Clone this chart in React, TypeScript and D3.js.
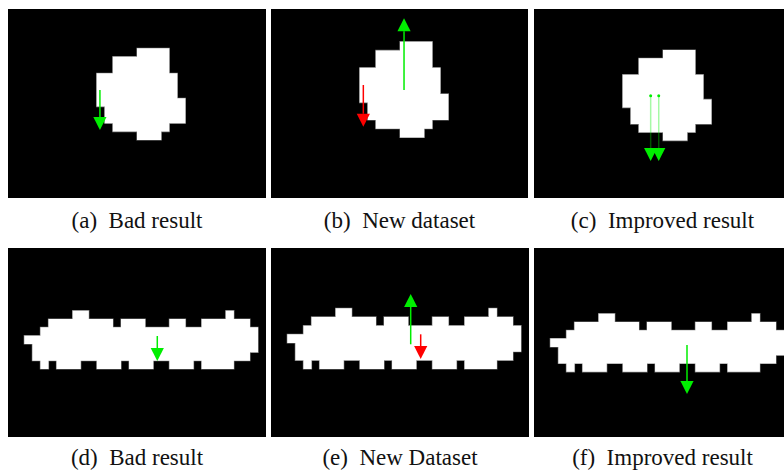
import React from "react";
import * as d3 from "d3";

// ---- data (cell units of each 32-column image) ----
type Span = [number, number, number]; // row, colStart, colEnd
const ROUND_BLOB: Span[] = [
  [0, 5, 9], [1, 2, 9], [2, 2, 9], [3, 0, 10], [4, 0, 10], [5, 0, 10],
  [6, 0, 11], [7, 1, 11], [8, 1, 11], [9, 2, 9], [10, 5, 8],
];
const LONG_BLOB: Span[] = [
  [0, 6, 8], [0, 25, 26],
  [1, 3, 11], [1, 12, 15], [1, 18, 20], [1, 22, 28],
  [2, 2, 29], [3, 0, 29], [4, 1, 29], [5, 1, 28],
  [6, 2, 3], [6, 4, 7], [6, 9, 12], [6, 13, 16], [6, 18, 21], [6, 22, 26],
];
type Arrow = { x: number; from: number; to: number; kind: "good" | "bad" | "faded" };
const ARROWS_A: Arrow[] = [{ x: 0.4, from: 5.0, to: 9.8, kind: "good" }];
const ARROWS_B: Arrow[] = [
  { x: 5.5, from: 5.55, to: -2.69, kind: "good" },
  { x: 0.45, from: 4.98, to: 9.77, kind: "bad" },
];
const ARROWS_C: Arrow[] = [
  { x: 3.47, from: 5.55, to: 13.49, kind: "faded" },
  { x: 4.47, from: 5.55, to: 13.49, kind: "faded" },
];
const ARROWS_D: Arrow[] = [{ x: 16.5, from: 3.04, to: 6.04, kind: "good" }];
const ARROWS_E: Arrow[] = [
  { x: 15.31, from: 4.15, to: -1.65, kind: "good" },
  { x: 16.55, from: 3.0, to: 5.85, kind: "bad" },
];
const ARROWS_F: Arrow[] = [{ x: 16.96, from: 3.77, to: 9.67, kind: "good" }];
const CAPTION_TAGS = ["(a)", "(b)", "(c)", "(d)", "(e)", "(f)"];
const CAPTION_TEXT = ["Bad result", "New dataset", "Improved result", "Bad result", "New Dataset", "Improved result"];

// ---- layout ----
const W = 784, H = 471;
const CW = 8.06;
const GREEN = "#00ee00";
const RED = "#ff0000";
const PANELS = [
  { x: 8, y: 9, w: 258, h: 189, ox: 96.7, oy: 48.3, ch: 8.33, blob: ROUND_BLOB, arrows: ARROWS_A, capY: 228 },
  { x: 271, y: 9, w: 257, h: 189, ox: 359.7, oy: 41.7, ch: 8.7, blob: ROUND_BLOB, arrows: ARROWS_B, capY: 228 },
  { x: 534, y: 9, w: 257, h: 189, ox: 622.7, oy: 50, ch: 8.23, blob: ROUND_BLOB, arrows: ARROWS_C, capY: 228 },
  { x: 8, y: 248, w: 258, h: 189, ox: 24.3, oy: 310.7, ch: 8.33, blob: LONG_BLOB, arrows: ARROWS_D, capY: 465 },
  { x: 271, y: 248, w: 258, h: 189, ox: 287.3, oy: 308.3, ch: 8.67, blob: LONG_BLOB, arrows: ARROWS_E, capY: 465 },
  { x: 534, y: 248, w: 257, h: 189, ox: 550.3, oy: 313.7, ch: 8.3, blob: LONG_BLOB, arrows: ARROWS_F, capY: 465 },
];

const HEAD_L = 13, HEAD_W = 6.6;
const SERIF = '"Liberation Serif", "DejaVu Serif", serif';

function Panel({ p, i }: { p: typeof PANELS[number]; i: number }) {
  const x = d3.scaleLinear().domain([0, 1]).range([p.ox, p.ox + CW]);
  const y = d3.scaleLinear().domain([0, 1]).range([p.oy, p.oy + p.ch]);
  const cx = p.x + p.w / 2;
  const blob = d3.path();
  p.blob.forEach(([r, c0, c1]) => {
    blob.rect(x(c0), y(r), x(c1) - x(c0), y(r + 1) - y(r));
  });
  const blobD = blob.toString();
  return (
    <g>
      <rect x={p.x} y={p.y} width={p.w} height={p.h} fill="#000" />
      <path d={blobD} fill="#fff" stroke="#7a7a7a" strokeWidth={1.2} />
      <path d={blobD} fill="#fff" />
      {p.arrows.map((a, k) => {
        const ax = x(a.x), y0 = y(a.from), y1 = y(a.to);
        const dir = y1 > y0 ? 1 : -1;
        const base = y1 - dir * HEAD_L;
        const col = a.kind === "bad" ? RED : GREEN;
        const path = d3.path();
        path.moveTo(ax, y1);
        path.lineTo(ax - HEAD_W, base);
        path.lineTo(ax + HEAD_W, base);
        path.closePath();
        return (
          <g key={"a" + k}>
            <line x1={ax} y1={y0} x2={ax} y2={base} stroke={col} strokeWidth={1.5}
              strokeOpacity={a.kind === "faded" ? 0.35 : 1} />
            {a.kind === "faded" && <circle cx={ax} cy={y0} r={1.5} fill={col} />}
            <path d={path.toString()} fill={col} />
          </g>
        );
      })}
      <text x={cx} y={p.capY} textAnchor="middle" fontFamily={SERIF} fontSize={23} fill="#111">
        {CAPTION_TAGS[i]}{"\u2002"}{CAPTION_TEXT[i]}
      </text>
    </g>
  );
}

export default function App() {
  return (
    <svg width={W} height={H} style={{ position: "fixed", left: 0, top: 0, background: "#fff" }}>
      <rect width={W} height={H} fill="#fff" />
      {PANELS.map((p, i) => <Panel key={i} p={p} i={i} />)}
    </svg>
  );
}
